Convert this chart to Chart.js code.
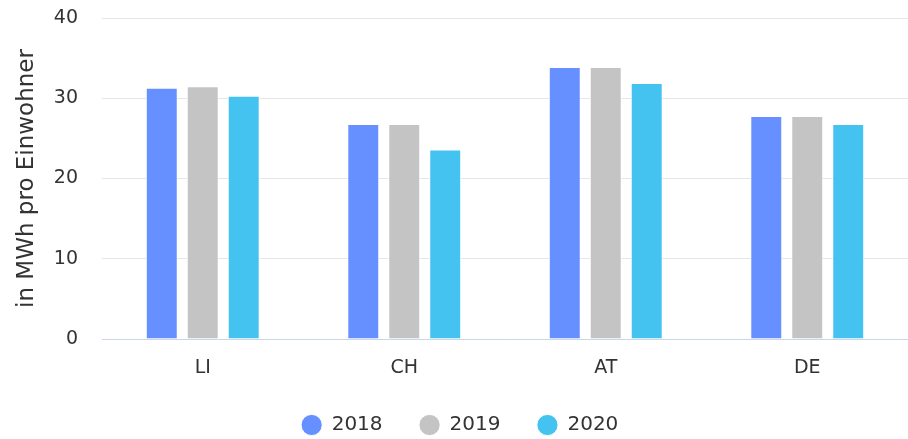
<!DOCTYPE html>
<html>
<head>
<meta charset="utf-8">
<script src="https://cdn.jsdelivr.net/npm/chart.js@4"></script>
<style>
  html, body { margin: 0; padding: 0; background: #fff; }
  #wrap { width: 908px; height: 439px; }
</style>
</head>
<body>
<div id="wrap"><canvas id="myChart"></canvas></div>
<script>
// categories and values
const countries = ["LI", "CH", "AT", "DE"];
const years = ["2018", "2019", "2020"];
const values2018 = [31.3, 26.8, 33.9, 27.8];
const values2019 = [31.5, 26.8, 33.9, 27.8];
const values2020 = [30.3, 23.6, 31.9, 26.8];
const yTicks = [0, 10, 20, 30, 40];

const colors = ["#6690ff", "#c4c4c4", "#45c3f0"];
const fontFamily = "'DejaVu Sans', sans-serif";

var ctx = document.getElementById('myChart').getContext('2d');

const chartConfig = {
  type: 'bar',
  data: {
    labels: countries,
    datasets: [values2018, values2019, values2020].map((vals, i) => ({
      label: years[i],
      data: vals,
      backgroundColor: colors[i],
      borderColor: '#ffffff',
      borderWidth: 1,
      categoryPercentage: 0.61,
      barPercentage: 0.78
    }))
  },
  options: {
    responsive: true,
    maintainAspectRatio: false,
    animation: false,
    layout: { padding: { top: 18, right: 0, left: 12, bottom: -6 } },
    scales: {
      x: {
        grid: { display: false },
        border: { display: true, color: '#ccd6eb', width: 1 },
        ticks: { color: '#333', font: { family: fontFamily, size: 19 }, padding: 10 },
        afterFit: axis => { axis.height = 39; }
      },
      y: {
        min: 0,
        max: 40,
        afterBuildTicks: axis => { axis.ticks = yTicks.map(v => ({ value: v })); },
        // tick marks kept invisible; their length gives the gap between labels and plot
        grid: { color: '#e6e6e6', lineWidth: 1, drawTicks: true, tickLength: 21, tickColor: 'rgba(0,0,0,0)' },
        border: { display: false },
        ticks: { color: '#333', font: { family: fontFamily, size: 19 }, padding: 3 },
        title: {
          display: true,
          text: 'in MWh pro Einwohner',
          color: '#333',
          font: { family: fontFamily, size: 23 },
          padding: { top: 1, bottom: 0 }
        },
        afterFit: axis => { axis.width = 90; }
      }
    },
    plugins: {
      legend: {
        position: 'bottom',
        labels: {
          usePointStyle: true,
          pointStyle: 'circle',
          boxWidth: 20,
          boxHeight: 15,
          padding: 37,
          color: '#333',
          font: { family: fontFamily, size: 20 }
        }
      },
      tooltip: { enabled: false }
    }
  }
};

new Chart(ctx, chartConfig);
</script>
</body>
</html>
